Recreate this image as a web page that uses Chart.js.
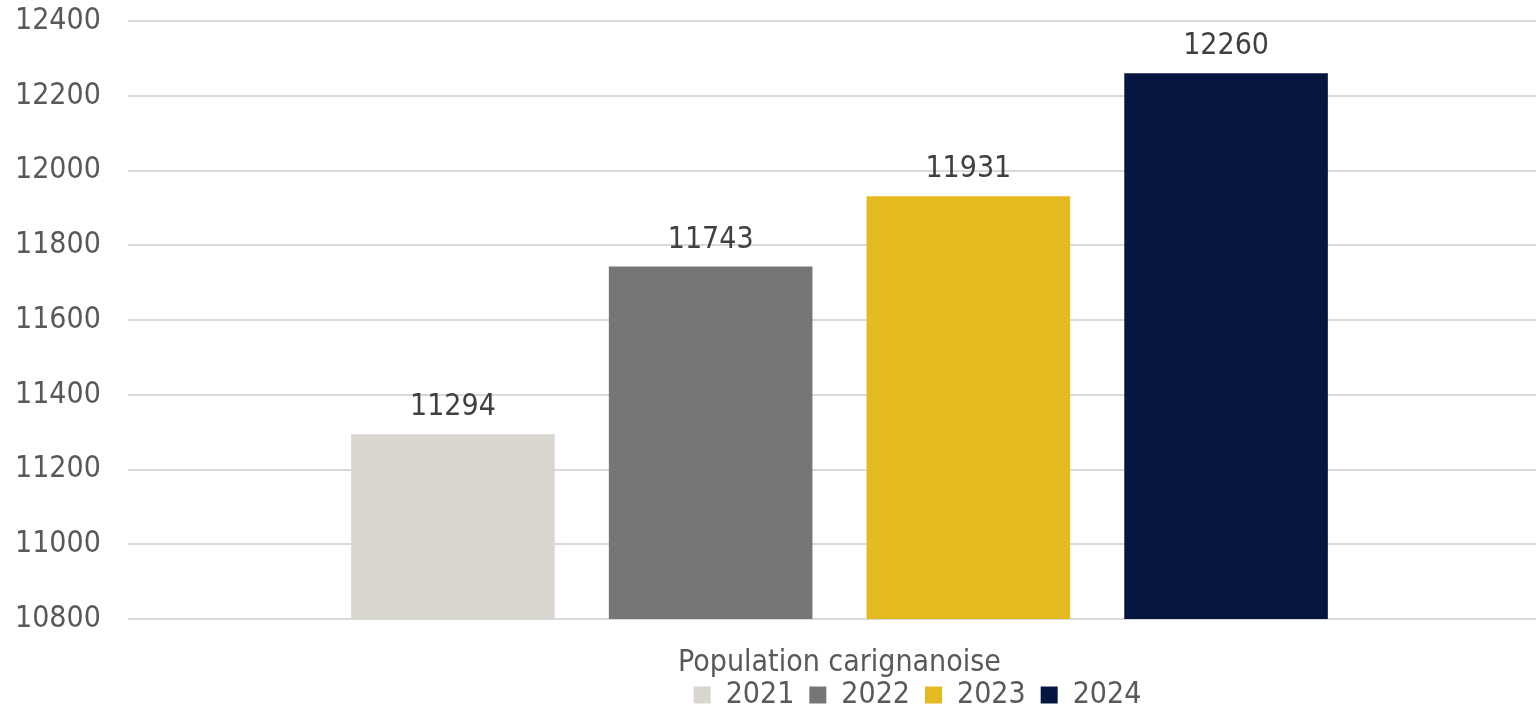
<!DOCTYPE html>
<html>
<head>
<meta charset="utf-8">
<script src="https://cdn.jsdelivr.net/npm/chart.js@4.4.0/dist/chart.umd.min.js"></script>
<style>
html,body{margin:0;padding:0;background:#fff;}
#wrap{width:1536px;height:715px;position:relative;}
</style>
</head>
<body>
<div id="wrap"><canvas id="c"></canvas></div>
<script>
const categories = ["Population carignanoise"];
const years = ["2021", "2022", "2023", "2024"];
const values2021 = [11294];
const values2022 = [11743];
const values2023 = [11931];
const values2024 = [12260];
const colors = ["#D9D6CF", "#767676", "#E5B920", "#061641"];
const yMin = 10800, yMax = 12400, yStep = 200;

const FONT = "'DejaVu Sans Condensed', 'DejaVu Sans', sans-serif";
const FS = 30;
const LEGEND_SHIFT = 142;

const labelPlugin = {
  id: 'valueLabels',
  afterLayout(chart) {
    if (chart.legend) {
      chart.legend.left += LEGEND_SHIFT;
      chart.legend.right += LEGEND_SHIFT;
    }
  },
  afterDatasetsDraw(chart) {
    const ctx = chart.ctx;
    ctx.save();
    ctx.font = FS + "px " + FONT;
    ctx.fillStyle = "#404040";
    ctx.textAlign = "center";
    ctx.textBaseline = "alphabetic";
    chart.data.datasets.forEach((ds, i) => {
      const meta = chart.getDatasetMeta(i);
      meta.data.forEach((el, j) => {
        ctx.fillText(String(ds.data[j]), el.x, el.y - 19);
      });
    });
    ctx.restore();
  }
};

const seriesValues = [values2021, values2022, values2023, values2024];
new Chart(document.getElementById('c'), {
  type: 'bar',
  data: {
    labels: categories,
    datasets: years.map((y, i) => ({
      label: y,
      data: seriesValues[i],
      backgroundColor: colors[i],
      borderWidth: 0,
      categoryPercentage: 0.74,
      barPercentage: 0.79
    }))
  },
  options: {
    responsive: true,
    maintainAspectRatio: false,
    animation: false,
    layout: { padding: { top: 21, right: 0, left: 15, bottom: -5 } },
    scales: {
      x: {
        afterFit(scale) {
          scale.height = 46;
          scale._computeLabelArea = () => undefined;
        },
        grid: { display: false, drawTicks: false },
        border: { display: false },
        ticks: { color: "#595959", font: { family: FONT, size: FS }, padding: 26 }
      },
      y: {
        min: yMin, max: yMax,
        afterFit(scale) { scale.width = 128; },
        ticks: {
          stepSize: yStep, color: "#595959", font: { family: FONT, size: FS }, padding: 0,
          crossAlign: 'far',
          callback: v => String(v)
        },
        grid: { color: "#D9D9D9", lineWidth: 2, drawTicks: true, tickLength: 15 },
        border: { display: false }
      }
    },
    plugins: {
      legend: {
        position: 'bottom',
        labels: {
          color: "#595959",
          font: { family: FONT, size: FS },
          boxWidth: 17, boxHeight: 17,
          padding: 15
        }
      },
      tooltip: { enabled: false }
    }
  },
  plugins: [labelPlugin]
});
</script>
</body>
</html>
